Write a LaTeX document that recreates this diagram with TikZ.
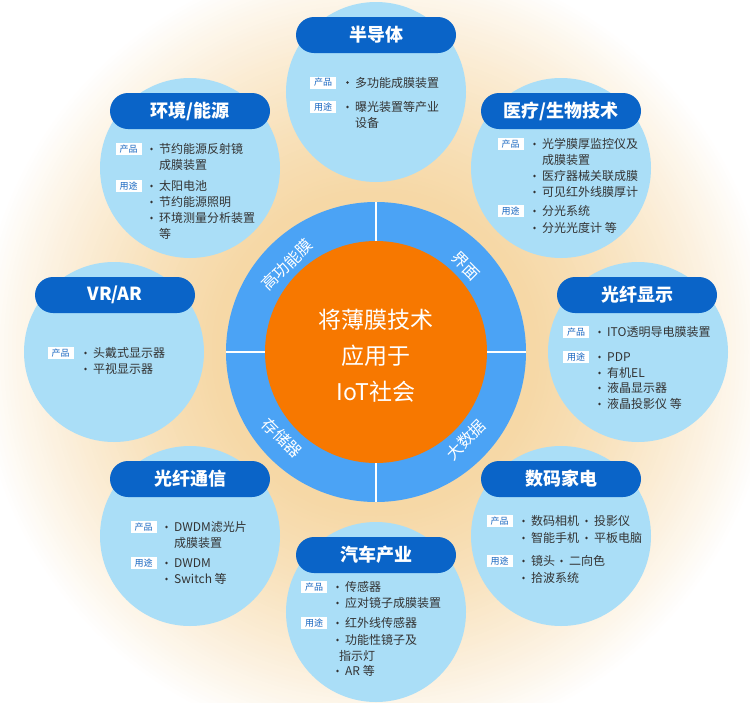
\documentclass[tikz,border=0pt]{standalone}
\usepackage{fontspec}
\setmainfont{Noto Sans CJK SC}
\definecolor{bgA}{HTML}{F6D8A6}
\definecolor{bubble}{HTML}{AADEF7}
\definecolor{pillblue}{HTML}{0A64C8}
\definecolor{ringblue}{HTML}{4BA3F5}
\definecolor{coreorange}{HTML}{F77800}
\definecolor{tagblue}{HTML}{1565C0}
\definecolor{txt}{HTML}{333333}
\newcounter{nid}
\newcommand\tagbox[3]{\stepcounter{nid}\node[tagbox] (t\arabic{nid}) at (#1,#2) {#3};}
\newcommand\bul[3]{\stepcounter{nid}\fill[txt] ({#1-7.5},#2) circle (1.3pt); \node[item] (n\arabic{nid}) at (#1,#2) {#3};}
\newcommand\pln[3]{\stepcounter{nid}\node[item] (n\arabic{nid}) at (#1,#2) {#3};}
\tikzset{
  bub/.style={circle, fill=bubble, draw=none, minimum size=180pt, inner sep=0pt},
  pill/.style={rectangle, rounded corners=18pt, fill=pillblue, text=white, minimum width=160pt, minimum height=36pt, inner sep=0pt, font=\fontsize{18}{18}\selectfont\bfseries},
  tagbox/.style={rectangle, fill=white, text=tagblue, minimum width=26pt, minimum height=12pt, inner sep=0pt, font=\fontsize{9}{9}\selectfont},
  item/.style={anchor=west, text=txt, inner sep=0pt, text height=10.5pt, text depth=1.5pt, font=\fontsize{12}{12}\selectfont},
  ringlab/.style={text=white, inner sep=0pt, font=\fontsize{16}{16}\selectfont},
  divider/.style={draw=white, line width=2.5pt},
}
\begin{document}
\begin{tikzpicture}[x=1pt, y=-1pt]
\fill[white] (0,0) rectangle (750,702);
\begin{scope}
  \clip (0,0) rectangle (750,702);
  \foreach \r in {420,416,...,148} {
    \pgfmathsetmacro\s{min(1,max(0,(400-\r)/240))}
    \pgfmathsetmacro\t{100*\s*(1.4-0.4*\s)}
    \fill[bgA!\t!white] (376,352) circle (\r pt);
  }
\end{scope}
\useasboundingbox (0,0) rectangle (750,702);

% central ring
\node[circle, minimum size=300pt, inner sep=0pt, fill=ringblue] (ring) at (376,352) {};
\node[circle, minimum size=222pt, inner sep=0pt, fill=coreorange] (core) at (376,352) {};
\draw[divider] (ring.north) -- (core.north);
\draw[divider] (ring.south) -- (core.south);
\draw[divider] (ring.west) -- (core.west);
\draw[divider] (ring.east) -- (core.east);
\node[text=white, align=center, font=\fontsize{23}{36}\selectfont] (coretext) at (376,356) {将薄膜技术\\应用于\\IoT社会};
\node[ringlab, rotate=45] (r1) at (287,265) {高功能膜};
\node[ringlab, rotate=-45] (r2) at (466,266) {界面};
\node[ringlab, rotate=45] (r3) at (466,440) {大数据};
\node[ringlab, rotate=-45] (r4) at (282,438) {存储器};

% bubbles
\node[bub] (b1) at (376,92) {};
\node[bub] (b2) at (190,168) {};
\node[bub] (b3) at (561,168) {};
\node[bub] (b4) at (114,352) {};
\node[bub] (b5) at (638,352) {};
\node[bub] (b6) at (190,536) {};
\node[bub] (b7) at (561,536) {};
\node[bub] (b8) at (376,612) {};

% titles
\node[pill] (p1) at (376,35) {半导体};
\node[pill] (p2) at (190,111) {环境/能源};
\node[pill] (p3) at (561,111) {医疗/生物技术};
\node[pill] (p4) at (115,295) {VR/AR};
\node[pill] (p5) at (637,295) {光纤显示};
\node[pill] (p6) at (190,479) {光纤通信};
\node[pill] (p7) at (561,479) {数码家电};
\node[pill] (p8) at (376,555) {汽车产业};

% 半导体
\begin{scope}[shift={(376,92)}]
\tagbox{-53}{-9.5}{产品}
\bul{-21}{-9.5}{多功能成膜装置}
\tagbox{-53}{15}{用途}
\bul{-21}{15}{曝光装置等产业}
\pln{-21}{31}{设备}
\end{scope}

% 环境/能源
\begin{scope}[shift={(190,168)}]
\tagbox{-61.5}{-19}{产品}
\bul{-31}{-19}{节约能源反射镜}
\pln{-31}{-3}{成膜装置}
\tagbox{-61.5}{18}{用途}
\bul{-31}{18}{太阳电池}
\bul{-31}{34}{节约能源照明}
\bul{-31}{50}{环境测量分析装置}
\pln{-31}{66}{等}
\end{scope}

% 医疗/生物技术
\begin{scope}[shift={(561,168)}]
\tagbox{-50.5}{-24}{产品}
\bul{-19}{-24}{光学膜厚监控仪及}
\pln{-19}{-8}{成膜装置}
\bul{-19}{8}{医疗器械关联成膜}
\bul{-19}{24}{可见红外线膜厚计}
\tagbox{-50.5}{43}{用途}
\bul{-19}{43}{分光系统}
\bul{-19}{60}{分光光度计 等}
\end{scope}

% VR/AR
\begin{scope}[shift={(114,352)}]
\tagbox{-53.5}{1}{产品}
\bul{-21}{1}{头戴式显示器}
\bul{-21}{17}{平视显示器}
\end{scope}

% 光纤显示
\begin{scope}[shift={(638,352)}]
\tagbox{-62}{-20}{产品}
\bul{-31}{-20}{ITO透明导电膜装置}
\tagbox{-62}{5}{用途}
\bul{-31}{5}{PDP}
\bul{-31}{21}{有机EL}
\bul{-31}{36}{液晶显示器}
\bul{-31}{52}{液晶投影仪 等}
\end{scope}

% 光纤通信
\begin{scope}[shift={(190,536)}]
\tagbox{-46.5}{-9}{产品}
\bul{-16}{-9}{DWDM滤光片}
\pln{-16}{7}{成膜装置}
\tagbox{-46.5}{27}{用途}
\bul{-16}{27}{DWDM}
\bul{-16}{43}{Switch 等}
\end{scope}

% 数码家电
\begin{scope}[shift={(561,536)}]
\tagbox{-61.5}{-15}{产品}
\bul{-30}{-15}{数码相机}
\bul{33}{-15}{投影仪}
\bul{-30}{2}{智能手机}
\bul{33}{2}{平板电脑}
\tagbox{-61.5}{25}{用途}
\bul{-30}{25}{镜头}
\bul{8}{25}{二向色}
\bul{-30}{42}{拾波系统}
\end{scope}

% 汽车产业
\begin{scope}[shift={(376,612)}]
\tagbox{-62}{-25}{产品}
\bul{-31}{-25}{传感器}
\bul{-31}{-9}{应对镜子成膜装置}
\tagbox{-62}{11}{用途}
\bul{-31}{11}{红外线传感器}
\bul{-31}{28}{功能性镜子及}
\pln{-37}{44}{指示灯}
\bul{-31}{59}{AR 等}
\end{scope}
\end{tikzpicture}
\end{document}
